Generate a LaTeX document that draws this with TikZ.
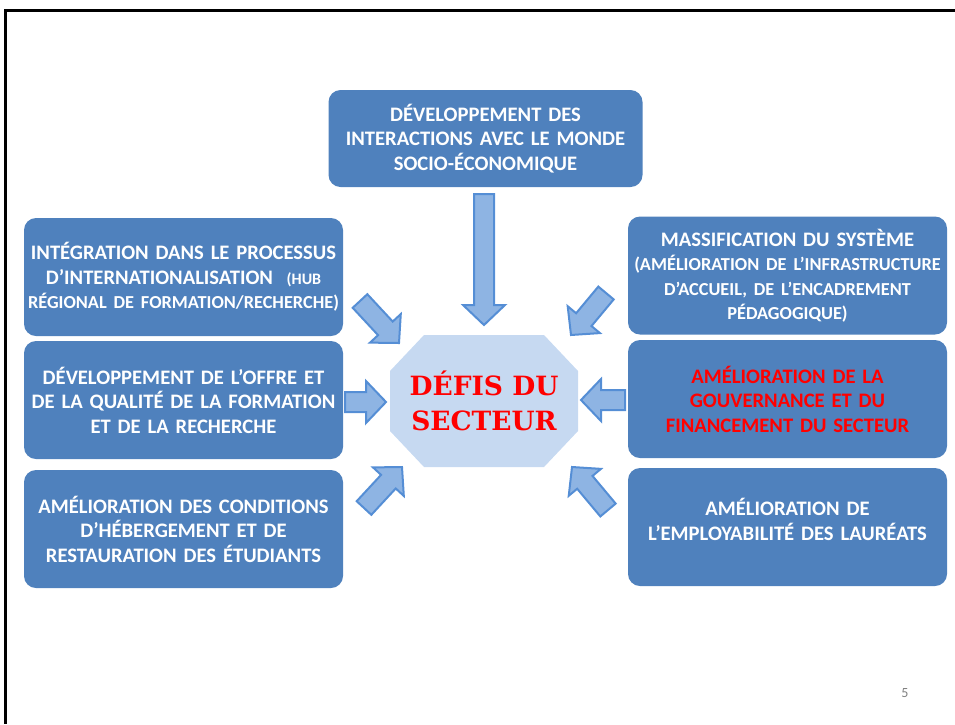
\documentclass[tikz,border=0pt]{standalone}
\usepackage{fontspec}
\newfontfamily\boxfont{Carlito}
\newfontfamily\defisfont{DejaVu Serif}
\usetikzlibrary{calc}
\definecolor{boxblue}{RGB}{79,129,189}
\definecolor{arrowfill}{RGB}{142,180,227}
\definecolor{arrowline}{RGB}{85,142,213}
\definecolor{octafill}{RGB}{198,217,241}
\definecolor{pagegray}{RGB}{128,128,128}
\newcommand{\smalltxt}{\fontsize{18.3}{24.5}\selectfont}

\begin{document}
\begin{tikzpicture}[x=1pt,y=-1pt,
    theme/.style={fill=boxblue,rounded corners=12pt,minimum width=319pt,minimum height=118pt,
      inner sep=0pt,text width=314pt,align=center,text=white,
      font=\boxfont\bfseries\fontsize{20.6}{24.5}\selectfont},
    blockarrow/.style={fill=arrowfill,draw=arrowline,line width=2pt,line join=miter},
    defistxt/.style={text=red,align=center,font=\defisfont\bfseries\fontsize{26.5}{35}\selectfont},
    pnum/.style={text=pagegray,font=\boxfont\fontsize{14}{16}\selectfont}]
    \useasboundingbox (0,0) rectangle (955,724);
    \draw[line width=3pt] (955,10) -- (5,10) -- (5,724);

    % themes round the centre
    \node[theme,minimum width=313pt,minimum height=97pt] (devinter) at (485.5,138.5)
      {DÉVELOPPEMENT DES\\ INTERACTIONS AVEC LE MONDE\\ SOCIO-ÉCONOMIQUE};
    \node[theme] (integ) at (183.5,277)
      {INTÉGRATION DANS LE PROCESSUS\\ D’INTERNATIONALISATION~~{\fontsize{16}{24.5}\selectfont (HUB}\\
       {\smalltxt RÉGIONAL DE FORMATION/RECHERCHE)}};
    \node[theme] (offre) at (183.5,400)
      {DÉVELOPPEMENT DE L’OFFRE ET\\ DE LA QUALITÉ DE LA FORMATION\\ ET DE LA RECHERCHE};
    \node[theme] (heberg) at (183.5,529)
      {AMÉLIORATION DES CONDITIONS\\ D’HÉBERGEMENT ET DE\\ RESTAURATION DES ÉTUDIANTS};
    \node[theme] (massif) at (787.5,275.5)
      {MASSIFICATION DU SYSTÈME\\ {\smalltxt (AMÉLIORATION DE L’INFRASTRUCTURE\\
       D’ACCUEIL, DE L’ENCADREMENT\\ PÉDAGOGIQUE)}};
    \node[theme,text=red] (gouv) at (787.5,399)
      {AMÉLIORATION DE LA\\ GOUVERNANCE ET DU\\ FINANCEMENT DU SECTEUR};
    \node[theme,text depth=40pt] (employ) at (787.5,527)
      {AMÉLIORATION DE\\ L’EMPLOYABILITÉ DES LAURÉATS};

    % centre
    \coordinate (c) at (484,401);
    \fill[octafill] ($(c)+(-60,-66)$) -- ($(c)+(60,-66)$) -- ($(c)+(94,-30)$) -- ($(c)+(94,30)$)
      -- ($(c)+(60,66)$) -- ($(c)+(-60,66)$) -- ($(c)+(-94,30)$) -- ($(c)+(-94,-30)$) -- cycle;
    \node[defistxt] (defis) at (c) {DÉFIS DU\\ SECTEUR};

    % arrows: tail / tip
    \coordinate (ta) at (484,194);   \coordinate (ha) at (484,325);
    \coordinate (tb) at (360,301);   \coordinate (hb) at (399,343);
    \coordinate (tc) at (345,402);   \coordinate (hc) at (386,402);
    \coordinate (td) at (364,508);   \coordinate (hd) at (402,467);
    \coordinate (te) at (606,293);   \coordinate (he) at (571,335);
    \coordinate (tf) at (625,400);   \coordinate (hf) at (581,400);
    \coordinate (tg) at (608,510);   \coordinate (hg) at (572,467);
    \foreach \s/\t in {ta/ha,tb/hb,tc/hc,td/hd,te/he,tf/hf,tg/hg}
    {\coordinate (k) at ($(\t)!20pt!(\s)$);
     \draw[blockarrow] ($(\s)!10pt!90:(\t)$) -- ($(k)!10pt!90:(\t)$) -- ($(k)!21pt!90:(\t)$) -- (\t)
       -- ($(k)!21pt!-90:(\t)$) -- ($(k)!10pt!-90:(\t)$) -- ($(\s)!10pt!-90:(\t)$) -- cycle;}

    \node[pnum] (page) at (905,693) {5};
\end{tikzpicture}
\end{document}
